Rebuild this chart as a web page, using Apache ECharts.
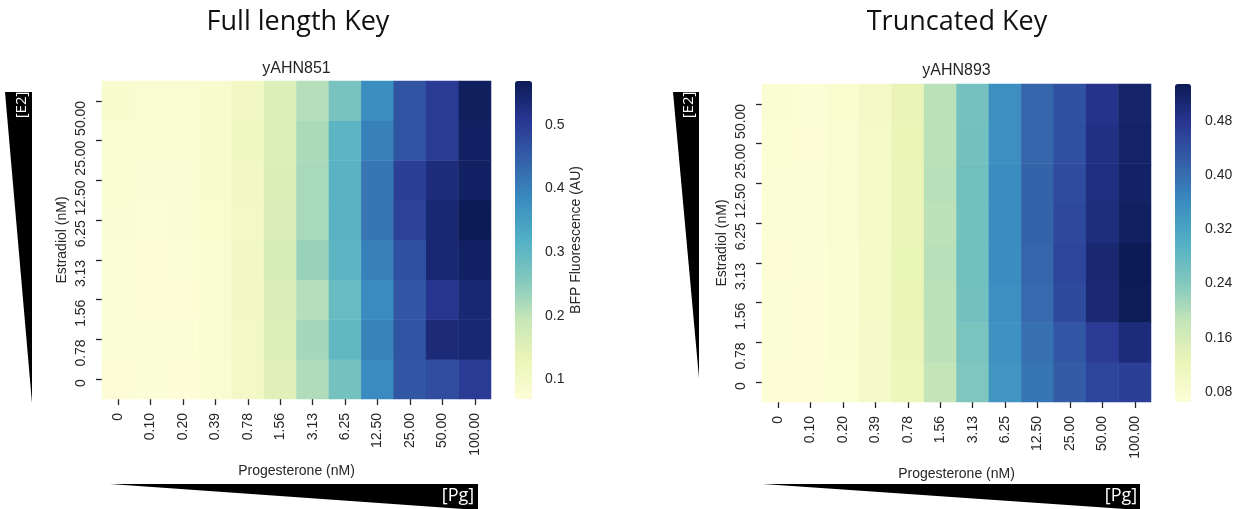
<!DOCTYPE html>
<html>
<head>
<meta charset="utf-8">
<script src="https://cdn.jsdelivr.net/npm/echarts@6/dist/echarts.min.js"></script>
<style>
  html, body { margin: 0; padding: 0; background: #ffffff; }
  #chart { width: 1242px; height: 509px; }
</style>
</head>
<body>
<div id="chart"></div>
<script>
// Progesterone doses (columns) and estradiol doses (rows, bottom to top), nM
const pgLevels = ['0', '0.10', '0.20', '0.39', '0.78', '1.56', '3.13', '6.25', '12.50', '25.00', '50.00', '100.00'];
const e2Levels = ['0', '0.78', '1.56', '3.13', '6.25', '12.50', '25.00', '50.00'];

// BFP fluorescence (AU), yAHN851 (full length key); one row per E2 level, E2 = 0 first
const fullLengthKey = [
  [0.074, 0.071, 0.069, 0.080, 0.104, 0.152, 0.215, 0.275, 0.385, 0.460, 0.475, 0.500],
  [0.075, 0.072, 0.072, 0.082, 0.106, 0.158, 0.225, 0.300, 0.395, 0.465, 0.535, 0.540],
  [0.076, 0.073, 0.073, 0.084, 0.108, 0.164, 0.210, 0.290, 0.385, 0.460, 0.510, 0.540],
  [0.076, 0.074, 0.075, 0.084, 0.108, 0.166, 0.235, 0.305, 0.400, 0.470, 0.540, 0.555],
  [0.078, 0.076, 0.078, 0.086, 0.106, 0.162, 0.222, 0.310, 0.415, 0.490, 0.540, 0.569],
  [0.080, 0.078, 0.078, 0.090, 0.110, 0.160, 0.222, 0.310, 0.415, 0.494, 0.530, 0.555],
  [0.082, 0.080, 0.080, 0.088, 0.114, 0.158, 0.220, 0.305, 0.400, 0.465, 0.500, 0.555],
  [0.088, 0.082, 0.084, 0.090, 0.110, 0.158, 0.210, 0.270, 0.380, 0.465, 0.500, 0.560]
];

// BFP fluorescence (AU), yAHN893 (truncated key); one row per E2 level, E2 = 0 first
const truncatedKey = [
  [0.066, 0.065, 0.072, 0.088, 0.118, 0.185, 0.245, 0.345, 0.392, 0.425, 0.455, 0.465],
  [0.067, 0.066, 0.074, 0.090, 0.120, 0.190, 0.252, 0.350, 0.398, 0.432, 0.472, 0.500],
  [0.068, 0.066, 0.075, 0.092, 0.123, 0.192, 0.260, 0.355, 0.405, 0.450, 0.505, 0.533],
  [0.069, 0.067, 0.076, 0.092, 0.125, 0.195, 0.262, 0.358, 0.412, 0.455, 0.508, 0.535],
  [0.070, 0.068, 0.077, 0.092, 0.122, 0.190, 0.262, 0.358, 0.415, 0.452, 0.498, 0.525],
  [0.071, 0.068, 0.077, 0.094, 0.122, 0.195, 0.262, 0.358, 0.415, 0.448, 0.495, 0.520],
  [0.072, 0.069, 0.078, 0.094, 0.124, 0.192, 0.260, 0.355, 0.412, 0.442, 0.490, 0.518],
  [0.075, 0.070, 0.080, 0.095, 0.126, 0.192, 0.258, 0.355, 0.412, 0.440, 0.485, 0.515]
];

// Colorbar tick values
const fullLengthTicks = [0.1, 0.2, 0.3, 0.4, 0.5];
const truncatedTicks = [0.08, 0.16, 0.24, 0.32, 0.40, 0.48];

// Yellow-green-blue sequential colormap (slightly muted)
const ylGnBu = ['#fdfed7', '#ebf5b8', '#c6e6b8', '#82c8be', '#52b0c4', '#3a8dc0', '#3461a9', '#293793', '#0c1b55'];

const TXT = '#262626';
const SANS = '"Liberation Sans", Arial, sans-serif';
const HEAD = '"Open Sans", "Noto Sans", sans-serif';

function toCells(rows) {
  const cells = [];
  rows.forEach((row, yi) => row.forEach((v, xi) => cells.push([xi, yi, v])));
  return cells;
}
function extent(rows) {
  const flat = rows.flat();
  return [Math.min(...flat), Math.max(...flat)];
}
const fullExt = extent(fullLengthKey);
const truncExt = extent(truncatedKey);

// Panel geometry
const panels = [
  { left: 102, top: 81, width: 389, height: 318, cbLeft: 515, cbWidth: 17, xNameGap: 63 },
  { left: 762, top: 84, width: 389, height: 318, cbLeft: 1175, cbWidth: 16, xNameGap: 62 }
];

function heatXAxis(i) {
  return {
    gridIndex: i, type: 'category', data: pgLevels, position: 'bottom',
    name: 'Progesterone (nM)', nameLocation: 'middle', nameGap: panels[i].xNameGap,
    nameTextStyle: { fontFamily: SANS, fontSize: 14, color: TXT },
    axisLine: { show: false },
    axisTick: { show: true, alignWithLabel: true, length: 6, lineStyle: { color: TXT, width: 1.3 } },
    axisLabel: { rotate: 90, align: 'right', verticalAlign: 'middle', margin: 14, interval: 0,
      fontFamily: SANS, fontSize: 14, color: TXT },
    splitLine: { show: false }
  };
}
function heatYAxis(i) {
  return {
    gridIndex: i, type: 'category', data: e2Levels, position: 'left',
    name: 'Estradiol (nM)', nameLocation: 'middle', nameGap: 33,
    nameTextStyle: { fontFamily: SANS, fontSize: 14, color: TXT },
    axisLine: { show: false },
    axisTick: { show: true, alignWithLabel: true, length: 6, lineStyle: { color: TXT, width: 1.3 } },
    axisLabel: { rotate: 90, align: 'right', verticalAlign: 'middle', margin: 21, interval: 0,
      fontFamily: SANS, fontSize: 14, color: TXT },
    splitLine: { show: false }
  };
}
function barYAxis(gridIndex, ext, ticks, digits, margin, withName) {
  return {
    gridIndex: gridIndex, type: 'value', position: 'right', min: ext[0], max: ext[1],
    name: withName ? 'BFP Fluorescence (AU)' : '', nameLocation: 'middle', nameGap: 37,
    nameTextStyle: { fontFamily: SANS, fontSize: 14, color: TXT },
    axisLine: { show: false },
    axisTick: { show: true, length: 5, customValues: ticks, lineStyle: { color: TXT, width: 1.3 } },
    axisLabel: { customValues: ticks, margin: margin, fontFamily: SANS, fontSize: 14, color: TXT,
      formatter: v => Number(v).toFixed(digits) },
    splitLine: { show: false }
  };
}

const chart = echarts.init(document.getElementById('chart'), null, { renderer: 'canvas' });

const option = {
  backgroundColor: '#ffffff',
  animation: false,
  grid: [
    { left: panels[0].left, top: panels[0].top, width: panels[0].width, height: panels[0].height },
    { left: panels[1].left, top: panels[1].top, width: panels[1].width, height: panels[1].height },
    { left: panels[0].cbLeft, top: panels[0].top, width: panels[0].cbWidth, height: panels[0].height },
    { left: panels[1].cbLeft, top: panels[1].top, width: panels[1].cbWidth, height: panels[1].height }
  ],
  xAxis: [
    heatXAxis(0), heatXAxis(1),
    { gridIndex: 2, type: 'value', show: false },
    { gridIndex: 3, type: 'value', show: false }
  ],
  yAxis: [
    heatYAxis(0), heatYAxis(1),
    barYAxis(2, fullExt, fullLengthTicks, 1, 13, true),
    barYAxis(3, truncExt, truncatedTicks, 2, 14, false)
  ],
  visualMap: [
    {
      type: 'continuous', seriesIndex: 0, min: fullExt[0], max: fullExt[1],
      calculable: false, hoverLink: false, orient: 'vertical', padding: 0,
      left: panels[0].cbLeft, top: panels[0].top,
      itemWidth: panels[0].cbWidth, itemHeight: panels[0].height,
      text: null, showLabel: false, inRange: { color: ylGnBu }
    },
    {
      type: 'continuous', seriesIndex: 1, min: truncExt[0], max: truncExt[1],
      calculable: false, hoverLink: false, orient: 'vertical', padding: 0,
      left: panels[1].cbLeft, top: panels[1].top,
      itemWidth: panels[1].cbWidth, itemHeight: panels[1].height,
      text: null, showLabel: false, inRange: { color: ylGnBu }
    }
  ],
  series: [
    {
      name: 'yAHN851', type: 'heatmap', xAxisIndex: 0, yAxisIndex: 0,
      data: toCells(fullLengthKey), itemStyle: { borderWidth: 0 },
      emphasis: { disabled: true }
    },
    {
      name: 'yAHN893', type: 'heatmap', xAxisIndex: 1, yAxisIndex: 1,
      data: toCells(truncatedKey), itemStyle: { borderWidth: 0 },
      emphasis: { disabled: true }
    }
  ],
  graphic: [
    // Panel headings
    { type: 'text', x: 298, y: 22, style: { text: 'Full length Key', font: '27px ' + HEAD, fill: '#111', align: 'center', verticalAlign: 'middle' } },
    { type: 'text', x: 957, y: 22, style: { text: 'Truncated Key', font: '27px ' + HEAD, fill: '#111', align: 'center', verticalAlign: 'middle' } },
    // Strain titles
    { type: 'text', x: 296.5, y: 68.5, style: { text: 'yAHN851', font: '16px ' + SANS, fill: TXT, align: 'center', verticalAlign: 'middle' } },
    { type: 'text', x: 956.5, y: 71, style: { text: 'yAHN893', font: '16px ' + SANS, fill: TXT, align: 'center', verticalAlign: 'middle' } },
    // Estradiol wedges
    { type: 'polygon', shape: { points: [[5, 92], [32, 92], [32, 403]] }, style: { fill: '#000' } },
    { type: 'polygon', shape: { points: [[673, 92], [699, 92], [699, 378]] }, style: { fill: '#000' } },
    { type: 'text', x: 21.5, y: 105, rotation: Math.PI / 2, style: { text: '[E2]', font: '15px ' + HEAD, fill: '#fff', align: 'center', verticalAlign: 'middle' } },
    { type: 'text', x: 689, y: 105, rotation: Math.PI / 2, style: { text: '[E2]', font: '15px ' + HEAD, fill: '#fff', align: 'center', verticalAlign: 'middle' } },
    // Progesterone wedges
    { type: 'polygon', shape: { points: [[110, 484], [478, 484], [478, 510]] }, style: { fill: '#000' } },
    { type: 'polygon', shape: { points: [[763, 484], [1140, 484], [1140, 510]] }, style: { fill: '#000' } },
    { type: 'text', x: 458, y: 496, style: { text: '[Pg]', font: '18px ' + HEAD, fill: '#fff', align: 'center', verticalAlign: 'middle' } },
    { type: 'text', x: 1121, y: 496, style: { text: '[Pg]', font: '18px ' + HEAD, fill: '#fff', align: 'center', verticalAlign: 'middle' } }
  ]
};

chart.setOption(option);
</script>
</body>
</html>
